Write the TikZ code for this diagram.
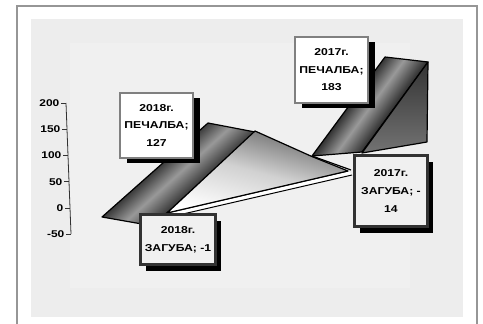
\documentclass[tikz,border=0pt]{standalone}
\usepackage{fontspec}
\newfontfamily\lblfont{Liberation Sans}[FakeStretch=1.22]
\usetikzlibrary{shadows}

\definecolor{framegray}{RGB}{150,150,150}
\definecolor{plotbg}{RGB}{237,237,237}
\definecolor{plotmid}{RGB}{240,240,240}
\definecolor{boxgray}{RGB}{128,128,128}
\definecolor{lossfill}{RGB}{240,240,240}
\definecolor{lossedge}{RGB}{50,50,50}

\pgfdeclarehorizontalshading{ribbonshade}{100bp}{color(0bp)=(black!95);
  color(40bp)=(black!90); color(50bp)=(black!40); color(60bp)=(black!85);
  color(100bp)=(black!90)}

\tikzset{
  gainbox/.style={rectangle, draw=boxgray, line width=1.2pt, fill=white,
    minimum width=73pt, minimum height=65pt, inner sep=0pt, align=center,
    font=\lblfont\bfseries\fontsize{10}{17.5}\selectfont,
    general shadow={fill=black, shadow xshift=7pt, shadow yshift=-5pt}},
  lossbox/.style={rectangle, draw=lossedge, line width=3pt, fill=lossfill,
    minimum width=75pt, minimum height=50pt, inner sep=0pt, align=center,
    font=\lblfont\bfseries\fontsize{10}{18}\selectfont,
    general shadow={fill=black, shadow xshift=5pt, shadow yshift=-6pt}},
  darkface/.style={draw=black, line width=1.2pt, line join=round, shading=ribbonshade},
  axislbl/.style={anchor=east, inner sep=0pt, font=\lblfont\bfseries\fontsize{9.8}{10}\selectfont}
}

\begin{document}
\begin{tikzpicture}[x=1pt, y=-1pt]
\useasboundingbox (0,0) rectangle (483,324);
% frame and plot area
\fill[white] (0,0) rectangle (483,324);
\draw[framegray, line width=2pt] (17,324) -- (17,6) -- (477,6) -- (477,324);
\fill[plotbg] (31,19) rectangle (463,317);
\fill[plotmid] (70,43) rectangle (410,288);

% value axis
\coordinate (atop) at (66,103);
\coordinate (abot) at (71,234);
\draw[lossedge, line width=0.8pt] (atop) -- (abot);
\foreach \v [count=\i] in {200,150,100,50,0,-50} {
  \pgfmathsetmacro{\ty}{208-0.524*\v}
  \pgfmathsetmacro{\tx}{66+(\ty-103)*5/131}
  \coordinate (tk\i) at (\tx,\ty);
  \draw[lossedge, line width=0.8pt] (tk\i) -- ++(-5,0) coordinate (tl\i);
  \node[axislbl] (lbl\i) at ([xshift=-1.5pt]tl\i) {\v};
}

% 2017 ribbon (behind)
\shade[darkface, shading angle=-36] (312,156) -- (385,57) -- (428,62) -- (362,152) -- cycle;
\shade[draw=black, line width=1.2pt, line join=round, top color=black!80, bottom color=black!55]
  (428,62) -- (427,142) -- (362,153) -- cycle;
\draw[line width=1.2pt] (312,156) -- (351,170);

% 2018 ribbon (front)
\shade[darkface, shading angle=-48] (102,217) -- (208,123) -- (255,132) -- (167,213) -- (142,224) -- cycle;
\fill[white] (167,213) -- (348,171) -- (352,175) -- (170,217) -- cycle;
\draw[line width=1pt] (167,213) -- (348,171) (170,217) -- (352,175);
\shade[draw=black, line width=1.2pt, line join=round, left color=black!60, right color=white, middle color=black!18, shading angle=-15]
  (167,213) -- (255,131) -- (313,157) -- (348,171) -- cycle;

% data labels
\node[gainbox] (g2018) at (156.5,125.5) {2018г.\\ПЕЧАЛБА;\\127};
\node[gainbox, minimum height=66pt] (g2017) at (331.5,70) {2017г.\\ПЕЧАЛБА;\\183};
\node[lossbox] (l2018) at (178,239.5) {2018г.\\ЗАГУБА; -1};
\node[lossbox, minimum width=73pt, minimum height=71pt] (l2017) at (391,191) {2017г.\\ЗАГУБА; -\\14};
\end{tikzpicture}
\end{document}
